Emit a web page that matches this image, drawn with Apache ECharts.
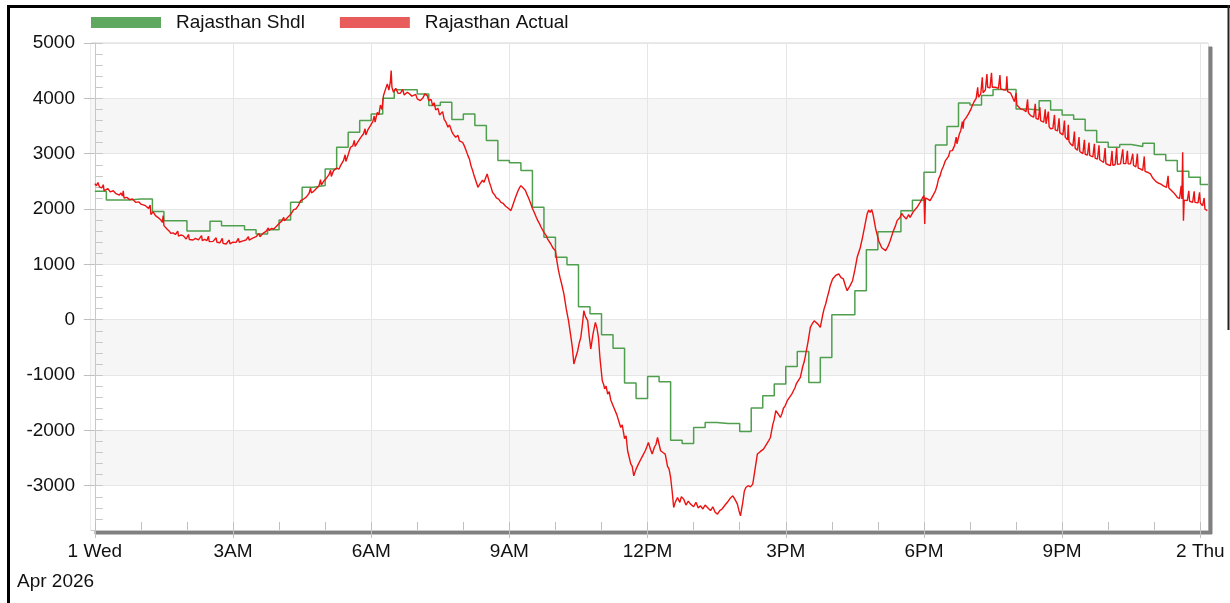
<!DOCTYPE html>
<html>
<head>
<meta charset="utf-8">
<title>Rajasthan Shdl vs Actual</title>
<script src="https://cdn.jsdelivr.net/npm/echarts@6/dist/echarts.min.js"></script>
<style>
  html, body { margin: 0; padding: 0; background: #fff; }
  #chart { width: 1230px; height: 603px; }
</style>
</head>
<body>
<div id="chart"></div>
<script>
// x values are minutes from 00:00, 1 Apr 2026
var tickMinutes = [0, 180, 360, 540, 720, 900, 1080, 1260, 1440];
var tickLabels = ['1 Wed', '3AM', '6AM', '9AM', '12PM', '3PM', '6PM', '9PM', '2 Thu'];
var hourMinutes = [0, 60, 120, 180, 240, 300, 360, 420, 480, 540, 600, 660, 720, 780, 840, 900,
  960, 1020, 1080, 1140, 1200, 1260, 1320, 1380, 1440];

// schedule, one value per 15 minute block starting 00:00
var shdlValues = [
  2320, 2165, 2165, 2180, 2180, 1953, 1790, 1790, 1604, 1604, 1778, 1700, 1700, 1627, 1549, 1627,
  1800, 2121, 2392, 2423, 2724, 3116, 3387, 3598, 3719, 4001, 4153, 4153, 4080, 3869, 3930, 3616,
  3719, 3508, 3236, 2875, 2835, 2694, 2030, 1488, 1127, 995, 235, 108, -271, -518, -1145, -1423,
  -1025, -1121, -2176, -2236, -1947, -1856, -1875, -1875, -2020, -1597, -1374, -1163, -844, -573, -1133, -681,
  90, 90, 524, 1266, 1591, 1591, 1971, 2160, 2663, 3158, 3489, 3918, 3880, 4050, 4160, 4160,
  3809, 3790, 3955, 3791, 3701, 3620, 3417, 3206, 3116, 3164, 3128, 3188, 2983, 2875, 2681, 2573,
  2441
];
var shdlEnd = 1450;

// actual drawal, [minute, MW]
var actual = [
  [0,2460],[2,2420],[4,2480],[6,2400],[9,2380],[11,2440],[12,2330],[14,2345],[17,2370],[20,2310],[24,2330],[27,2284],
  [32,2250],[34,2290],[36,2235],[37,2330],[38,2200],[42,2210],[45,2170],[49,2180],[53,2121],[57,2130],[60,2090],[66,2061],[70,2010],[72,2070],
  [73,1900],[76,1950],[79,1880],[82,1850],[86,1800],[88,1760],[89,1880],[90,1700],[94,1640],[97,1600],[99,1560],[102,1570],[105,1540],
  [108,1600],[109,1510],[112,1530],[115,1519],[119,1459],[122,1540],[123,1450],[128,1440],[131,1470],[135,1441],[139,1520],[140,1430],
  [143,1450],[146,1430],[148,1510],[149,1410],[154,1416],[158,1480],[159,1400],[163,1390],[166,1470],[167,1380],[171,1368],
  [175,1440],[176,1370],[180,1400],[184,1398],[187,1470],[188,1400],[192,1420],[197,1441],[200,1500],[201,1440],
  [205,1470],[210,1500],[214,1560],[215,1500],[219,1560],[223,1597],[226,1660],[227,1610],[230,1650],[233,1640],[236,1681],
  [240,1740],[244,1790],[246,1850],[247,1790],[249,1821],[252,1860],[255,1900],[259,1990],[262,2001],[265,2060],[268,2150],
  [272,2180],[275,2211],[279,2280],[281,2380],[282,2290],[285,2320],[288,2363],[292,2420],[294,2530],[295,2430],[298,2500],
  [301,2544],[305,2620],[307,2700],[308,2590],[311,2694],[315,2740],[318,2720],[320,2784],[324,2880],[326,2980],[327,2860],
  [330,2980],[333,3116],[336,3140],[338,3240],[339,3130],[342,3200],[344,3180],[346,3285],[350,3360],[352,3450],[353,3340],
  [356,3440],[359,3508],[362,3580],[364,3680],[365,3570],[368,3748],[370,3700],[372,3880],[374,3800],[376,4050],[379,4180],
  [381,4261],[383,4150],[385,4300],[386,4502],[387,4200],[389,4110],[392,4180],[395,4090],[398,4092],[401,4160],
  [403,4060],[407,4110],[410,4080],[413,4040],[415,4020],[418,4070],[420,3990],[424,3960],[427,4000],[430,4080],
  [433,4050],[435,3960],[438,3980],[440,3869],[442,3920],[444,3790],[447,3820],[449,3700],[451,3719],[453,3760],
  [455,3620],[457,3580],[460,3478],[462,3520],[465,3400],[467,3350],[470,3297],[473,3330],[475,3230],[477,3260],
  [479,3206],[481,3150],[483,3080],[486,2965],[488,2900],[490,2780],[492,2700],[494,2604],[497,2480],[499,2392],[501,2440],[503,2420],
  [505,2520],[507,2482],[509,2560],[511,2634],[514,2480],[516,2400],[518,2302],[521,2250],[523,2200],[526,2180],[529,2121],[532,2100],[535,2050],[539,2010],[542,1971],[545,2090],
  [548,2211],[551,2320],[553,2380],[555,2423],[558,2380],[561,2332],[563,2260],[565,2200],[568,2091],[570,2010],[572,1950],[575,1850],[577,1790],[579,1740],[581,1680],
  [585,1579],[588,1520],[590,1450],[594,1368],[597,1290],[600,1248],[602,1050],[604,886],[606,760],[608,650],[611,465],[614,200],[617,-18],
  [620,-300],[622,-500],[624,-801],[626,-700],[629,-560],[631,-420],[633,-320],[635,-100],[637,163],[639,60],
  [642,-18],[644,-300],[646,-530],[649,-250],[652,-48],[654,-150],[656,-320],[658,-700],[661,-1103],[663,-1180],[664,-1250],
  [666,-1200],[668,-1344],[670,-1300],[672,-1450],[674,-1420],[676,-1585],[678,-1560],[680,-1720],[682,-1690],[685,-1947],
  [687,-1900],[690,-2150],[692,-2100],[694,-2368],[696,-2400],[698,-2600],[700,-2650],[702,-2820],[705,-2700],
  [708,-2609],[710,-2640],[712,-2500],[714,-2470],[717,-2368],[719,-2300],[721,-2218],[724,-2350],[726,-2428],[729,-2300],[731,-2250],[733,-2128],[735,-2250],[737,-2368],
  [740,-2400],[743,-2428],[746,-2650],[748,-2700],[750,-2851],[752,-3100],[754,-3393],[756,-3300],[759,-3212],[762,-3300],[764,-3200],
  [767,-3242],[770,-3350],[773,-3280],[776,-3332],[780,-3380],[783,-3300],[786,-3400],[789,-3363],[792,-3420],[795,-3350],
  [798,-3393],[802,-3450],[805,-3380],[808,-3480],[811,-3513],[814,-3450],[817,-3420],[819,-3393],[822,-3330],[825,-3280],
  [828,-3220],[831,-3182],[834,-3250],[837,-3332],[839,-3450],[841,-3544],[844,-3300],[846,-3100],[848,-3032],[851,-3000],
  [854,-3020],[857,-2971],[860,-2700],[863,-2428],[865,-2450],[867,-2380],[869,-2400],[871,-2338],[875,-2250],[878,-2180],[880,-2128],[883,-1900],[885,-1800],[887,-1645],
  [890,-1700],[893,-1766],[895,-1700],[897,-1600],[899,-1560],[902,-1464],[904,-1420],[906,-1380],[908,-1340],[910,-1284],[912,-1230],[914,-1150],[916,-1120],[919,-1043],[922,-850],[924,-760],[926,-621],
  [929,-400],[932,-139],[935,-60],[937,-20],[939,12],[942,-80],[945,-139],[948,80],[950,200],[952,284],[954,400],[956,500],[958,620],[961,736],
  [965,800],[969,826],[972,760],[975,736],[978,600],[980,524],[984,620],[987,705],[990,900],[993,1127],
  [997,1300],[1000,1488],[1003,1700],[1006,1911],[1008,1980],[1010,1940],[1012,1990],[1014,1880],[1017,1650],[1021,1428],
  [1025,1300],[1030,1248],[1033,1320],[1036,1428],[1040,1600],[1043,1700],[1045,1790],[1049,1850],[1051,1920],[1053,1880],[1057,1820],[1060,1900],[1062,1850],
  [1066,1950],[1068,1920],[1071,2031],[1073,2010],[1075,2120],[1078,2200],[1080,2242],[1081,1730],[1082,2200],[1085,2180],[1088,2152],[1092,2250],
  [1095,2330],[1097,2420],[1099,2544],[1101,2600],[1103,2700],[1105,2760],[1108,2875],[1110,2900],[1112,2950],[1114,3050],[1117,3055],[1120,3150],[1122,3300],[1123,3180],[1124,3236],[1126,3350],[1128,3420],[1130,3580],[1131,3450],[1132,3598],
  [1135,3650],[1138,3719],[1141,3800],[1143,3870],[1145,3930],[1148,4000],[1150,4200],[1151,4020],[1154,4080],[1156,4380],[1157,4100],
  [1160,4150],[1162,4440],[1163,4200],[1166,4190],[1168,4460],[1169,4200],[1173,4200],[1177,4180],[1179,4420],[1180,4170],
  [1184,4153],[1187,4150],[1188,4400],[1189,4120],[1193,4092],[1196,4000],[1198,3940],[1200,4100],[1201,3880],[1202,3869],
  [1206,3809],[1210,3790],[1213,3760],[1215,3980],[1216,3740],[1219,3688],[1223,3660],[1225,3900],[1226,3640],[1229,3620],
  [1231,3840],[1232,3598],[1236,3568],[1238,3800],[1239,3540],[1241,3510],[1242,3760],[1243,3490],[1245,3448],[1248,3460],
  [1250,3700],[1251,3430],[1254,3410],[1256,3640],[1257,3380],[1258,3357],[1261,3340],[1263,3600],[1264,3300],[1267,3250],
  [1268,3520],[1269,3220],[1271,3176],[1274,3140],[1276,3400],[1277,3100],[1280,3060],[1282,3300],[1283,3040],[1284,3025],
  [1287,3000],[1289,3250],[1290,2990],[1293,2975],[1295,3200],[1296,2970],[1297,2965],[1300,2940],[1302,3180],[1303,2920],
  [1306,2900],[1308,3150],[1309,2890],[1310,2875],[1314,2840],[1316,3100],[1317,2820],[1320,2800],[1323,2784],[1325,3050],
  [1326,2790],[1329,2800],[1331,3100],[1332,2810],[1336,2815],[1339,3080],[1340,2820],[1343,2820],[1345,3050],[1346,2815],
  [1349,2815],[1352,3000],[1353,2790],[1356,2760],[1358,3000],[1359,2740],[1362,2724],[1365,2700],[1367,2950],[1368,2680],
  [1372,2660],[1375,2634],[1378,2560],[1382,2500],[1385,2470],[1388,2453],[1392,2420],[1396,2390],[1398,2600],[1399,2380],
  [1401,2363],[1405,2300],[1408,2250],[1410,2211],[1413,2190],[1415,2420],[1416,2180],[1417,3025],[1418,1790],[1419,2160],
  [1423,2152],[1425,2330],[1426,2140],[1430,2121],[1432,2320],[1433,2120],[1437,2110],[1439,2300],[1440,2110],[1443,2060],
  [1445,2200],[1446,2000],[1449,1971]
];

var FONT = '"Liberation Sans", Arial, sans-serif';
var GREEN = '#4f9f4f';
var RED = '#ee1111';

var shdlData = shdlValues.map(function (v, i) { return [i * 15, v]; });
shdlData.push([shdlEnd, shdlValues[shdlValues.length - 1]]);

var chart = echarts.init(document.getElementById('chart'));
var option = {
  animation: false,
  backgroundColor: '#fff',
  grid: {
    left: 91, right: 22, top: 43, bottom: 73,
    show: true,
    backgroundColor: '#fff',
    borderColor: '#d4d4d4',
    borderWidth: 1,
    shadowColor: '#808080',
    shadowOffsetX: 4,
    shadowOffsetY: 4,
    shadowBlur: 0
  },
  legend: {
    left: 86, top: 8,
    icon: 'rect',
    itemWidth: 70, itemHeight: 11, itemGap: 35,
    textStyle: { fontSize: 19, color: '#111', fontFamily: FONT, padding: [0, 0, 0, 10] },
    data: [
      { name: 'Rajasthan Shdl', itemStyle: { color: '#5fa85f' } },
      { name: 'Rajasthan Actual', itemStyle: { color: '#e85c5c' } }
    ]
  },
  xAxis: [
    {
      type: 'value', min: -5, max: 1450,
      axisLine: { show: true, onZero: false, lineStyle: { color: '#c8c8c8' } },
      axisTick: { customValues: tickMinutes, length: 8, lineStyle: { color: '#c0c0c0' } },
      axisLabel: {
        customValues: tickMinutes,
        margin: 12, fontSize: 19, color: '#111', fontFamily: FONT,
        formatter: function (v) {
          var i = tickMinutes.indexOf(v);
          return i >= 0 ? tickLabels[i] : '';
        }
      },
      splitLine: { show: true, lineStyle: { color: '#e6e6e6' } }
    },
    {
      type: 'value', min: -5, max: 1450, position: 'bottom',
      axisLine: { show: false, onZero: false },
      axisTick: { customValues: hourMinutes, inside: true, length: 8, lineStyle: { color: '#c0c0c0' } },
      axisLabel: { show: false },
      splitLine: { show: false }
    }
  ],
  yAxis: [
    {
      type: 'value', min: -3800, max: 5000, splitNumber: 9,
      axisLine: { show: true, lineStyle: { color: '#c8c8c8' } },
      axisTick: { show: true, length: 11, lineStyle: { color: '#c0c0c0' } },
      axisLabel: {
        showMinLabel: false, margin: 16, fontSize: 19, color: '#111', fontFamily: FONT,
        formatter: function (v) { return String(v); }
      },
      splitLine: { show: true, lineStyle: { color: '#e6e6e6' } },
      splitArea: { show: true, areaStyle: { color: ['#ffffff', '#f6f6f6'] } }
    },
    {
      type: 'value', min: -3800, max: 5000, interval: 200, position: 'left',
      axisLine: { show: false },
      axisTick: { show: true, inside: true, length: 8, lineStyle: { color: '#c8c8c8' } },
      axisLabel: { show: false },
      splitLine: { show: false }
    }
  ],
  graphic: [
    { type: 'text', left: 17, top: 572, style: { text: 'Apr 2026', fill: '#111', font: '19px ' + FONT } },
    { type: 'line', shape: { x1: 8.5, y1: 5, x2: 8.5, y2: 603 }, style: { stroke: '#000', lineWidth: 3 } },
    { type: 'line', shape: { x1: 7, y1: 6.5, x2: 1230, y2: 6.5 }, style: { stroke: '#000', lineWidth: 3 } },
    { type: 'line', shape: { x1: 1228.5, y1: 5, x2: 1228.5, y2: 330 }, style: { stroke: '#222', lineWidth: 2 } }
  ],
  series: [
    {
      name: 'Rajasthan Shdl', type: 'line', step: 'end',
      xAxisIndex: 0, yAxisIndex: 0,
      data: shdlData, showSymbol: false, z: 2,
      lineStyle: { color: GREEN, width: 1.5 },
      itemStyle: { color: GREEN }
    },
    {
      name: 'Rajasthan Actual', type: 'line',
      xAxisIndex: 0, yAxisIndex: 0,
      data: actual, showSymbol: false, z: 3,
      lineStyle: { color: RED, width: 1.4 },
      itemStyle: { color: RED }
    }
  ]
};
chart.setOption(option);
</script>
</body>
</html>
